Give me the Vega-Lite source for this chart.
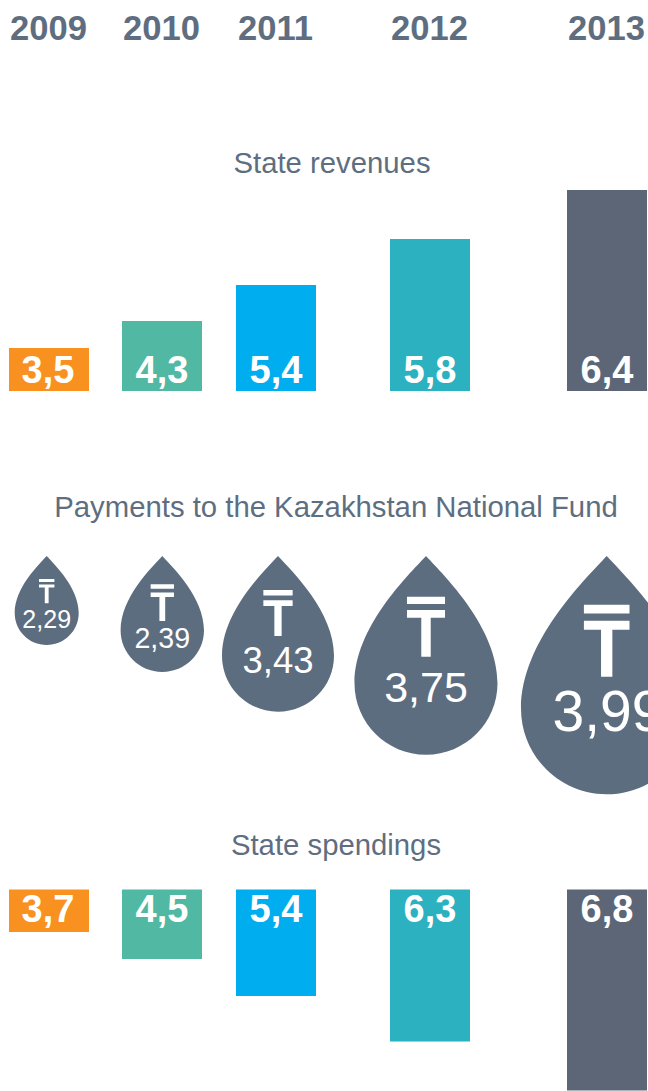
{
  "$schema": "https://vega.github.io/schema/vega-lite/v6.json",
  "width": 648,
  "height": 1091,
  "padding": 0,
  "autosize": {"type": "none"},
  "background": "#ffffff",
  "config": {"view": {"stroke": null}, "font": "Liberation Sans"},
  "datasets": {
    "revenues": [
      {"year": 2009, "value": 3.5, "label": "3,5"},
      {"year": 2010, "value": 4.3, "label": "4,3"},
      {"year": 2011, "value": 5.4, "label": "5,4"},
      {"year": 2012, "value": 5.8, "label": "5,8"},
      {"year": 2013, "value": 6.4, "label": "6,4"}
    ],
    "spendings": [
      {"year": 2009, "value": 3.7, "label": "3,7"},
      {"year": 2010, "value": 4.5, "label": "4,5"},
      {"year": 2011, "value": 5.4, "label": "5,4"},
      {"year": 2012, "value": 6.3, "label": "6,3"},
      {"year": 2013, "value": 6.8, "label": "6,8"}
    ],
    "payments": [
      {"year": 2009, "value": 2.29, "label": "2,29"},
      {"year": 2010, "value": 2.39, "label": "2,39"},
      {"year": 2011, "value": 3.43, "label": "3,43"},
      {"year": 2012, "value": 3.75, "label": "3,75"},
      {"year": 2013, "value": 3.99, "label": "3,99"}
    ],
    "sections": [
      {"rank": 1, "title": "State revenues"},
      {"rank": 2, "title": "Payments to the Kazakhstan National Fund"},
      {"rank": 3, "title": "State spendings"}
    ]
  },
  "resolve": {"scale": {"x": "independent", "y": "independent", "size": "independent"}},
  "layer": [
    {
      "data": {"name": "revenues"},
      "mark": {"type": "bar", "orient": "vertical", "width": 80},
      "encoding": {
        "x": {"field": "year", "type": "quantitative",
          "scale": {"domain": [2009, 2010, 2011, 2012, 2013], "range": [49, 162, 276, 430, 607], "padding": 0},
          "axis": {"orient": "top", "values": [2009, 2010, 2011, 2012, 2013], "format": "d", "title": null, "domain": false, "ticks": false, "grid": false, "labelOverlap": false, "labelFlush": false, "labelFont": "Liberation Sans", "labelFontWeight": "bold", "labelFontSize": 34.6, "labelColor": "#5E6E80", "labelBaseline": "alphabetic", "labelPadding": 0, "labelOffset": -1, "offset": -39}},
        "y": {"field": "value", "type": "quantitative", "stack": null,
          "scale": {"domain": [0, 3.5, 4.3, 5.4, 5.8, 6.4], "range": [391, 348, 321, 285, 239, 190]}, "axis": null},
        "color": {"field": "year", "type": "nominal",
          "scale": {"domain": [2009, 2010, 2011, 2012, 2013], "range": ["#F99120", "#50B8A3", "#00AEEF", "#2BB1BF", "#5C6677"]}, "legend": null}
      }
    },
    {
      "data": {"name": "spendings"},
      "mark": {"type": "bar", "orient": "vertical", "width": 80},
      "encoding": {
        "x": {"field": "year", "type": "quantitative",
          "scale": {"domain": [2009, 2010, 2011, 2012, 2013], "range": [49, 162, 276, 430, 607], "padding": 0}, "axis": null},
        "y": {"field": "value", "type": "quantitative", "stack": null,
          "scale": {"domain": [0, 3.7, 4.5, 5.4, 6.3, 6.8], "range": [889.5, 932, 959, 996, 1041.5, 1090.5]}, "axis": null},
        "color": {"field": "year", "type": "nominal", "legend": null}
      }
    },
    {
      "data": {"name": "revenues"},
      "mark": {"type": "text", "font": "Liberation Sans", "fontWeight": "bold", "fontSize": 38, "color": "#ffffff", "align": "center", "baseline": "alphabetic"},
      "encoding": {
        "x": {"field": "year", "type": "quantitative",
          "scale": {"domain": [2009, 2010, 2011, 2012, 2013], "range": [48, 162, 276, 430, 607]}, "axis": null},
        "y": {"field": "value", "type": "quantitative", "scale": {"domain": [3.5, 6.4], "range": [383, 383]}, "axis": null},
        "text": {"field": "label"}
      }
    },
    {
      "data": {"name": "spendings"},
      "mark": {"type": "text", "font": "Liberation Sans", "fontWeight": "bold", "fontSize": 38, "color": "#ffffff", "align": "center", "baseline": "alphabetic"},
      "encoding": {
        "x": {"field": "year", "type": "quantitative",
          "scale": {"domain": [2009, 2010, 2011, 2012, 2013], "range": [48, 162, 276, 430, 607]}, "axis": null},
        "y": {"field": "value", "type": "quantitative", "scale": {"domain": [3.7, 6.8], "range": [922, 922]}, "axis": null},
        "text": {"field": "label"}
      }
    },
    {
      "data": {"name": "payments"},
      "mark": {"type": "point", "filled": true, "opacity": 1, "strokeWidth": 0, "color": "#5D6D80",
        "shape": "M0,0C.13,.14,.5,.5,.5,.89C.5,1.166,.276,1.39,0,1.39C-.276,1.39,-.5,1.166,-.5,.89C-.5,.5,-.13,.14,0,0Z"},
      "encoding": {
        "x": {"field": "year", "type": "quantitative",
          "scale": {"domain": [2009, 2010, 2011, 2012, 2013], "range": [46.7, 162.3, 278, 426, 606.7]}, "axis": null},
        "y": {"field": "value", "type": "quantitative", "scale": {"domain": [2.29, 3.99], "range": [556, 556]}, "axis": null},
        "size": {"field": "value", "type": "quantitative",
          "scale": {"domain": [2.29, 2.39, 3.43, 3.75, 3.99], "range": [16384, 27824, 50176, 81796, 117508]}, "legend": null}
      }
    },
    {
      "data": {"name": "payments"},
      "mark": {"type": "point", "filled": true, "opacity": 1, "strokeWidth": 0, "color": "#ffffff",
        "shape": "M-.133,.285H.133V.336H-.133ZM-.133,.378H.133V.431H.033V.704H-.033V.431H-.133Z"},
      "encoding": {
        "x": {"field": "year", "type": "quantitative",
          "scale": {"domain": [2009, 2010, 2011, 2012, 2013], "range": [46.7, 162.3, 278, 426, 606.7]}, "axis": null},
        "y": {"field": "value", "type": "quantitative", "scale": {"domain": [2.29, 2.39, 3.43, 3.75, 3.99], "range": [562.5, 559.3, 558.6, 556, 556]}, "axis": null},
        "size": {"field": "value", "type": "quantitative",
          "scale": {"domain": [2.29, 2.39, 3.43, 3.75, 3.99], "range": [13456, 30695, 48400, 81796, 117508]}, "legend": null}
      }
    },
    {
      "data": {"name": "payments"},
      "mark": {"type": "text", "font": "Liberation Sans", "color": "#ffffff", "align": "center", "baseline": "alphabetic"},
      "encoding": {
        "x": {"field": "year", "type": "quantitative",
          "scale": {"domain": [2009, 2010, 2011, 2012, 2013], "range": [46.7, 162.3, 278, 426, 608]}, "axis": null},
        "y": {"field": "value", "type": "quantitative", "scale": {"domain": [2.29, 2.39, 3.43, 3.75, 3.99], "range": [628, 648, 673, 702, 731]}, "axis": null},
        "size": {"field": "value", "type": "quantitative",
          "scale": {"domain": [2.29, 2.39, 3.43, 3.75, 3.99], "range": [25, 28.6, 36.5, 43, 57]}, "legend": null},
        "text": {"field": "label"}
      }
    },
    {
      "data": {"name": "sections"},
      "mark": {"type": "text", "font": "Liberation Sans", "fontSize": 29.3, "color": "#5E6E80", "align": "center", "baseline": "alphabetic"},
      "encoding": {
        "x": {"field": "rank", "type": "quantitative", "scale": {"domain": [1, 2, 3], "range": [332, 336, 336]}, "axis": null},
        "y": {"field": "rank", "type": "quantitative", "scale": {"domain": [1, 2, 3], "range": [173, 517, 855]}, "axis": null},
        "text": {"field": "title"}
      }
    }
  ]
}
